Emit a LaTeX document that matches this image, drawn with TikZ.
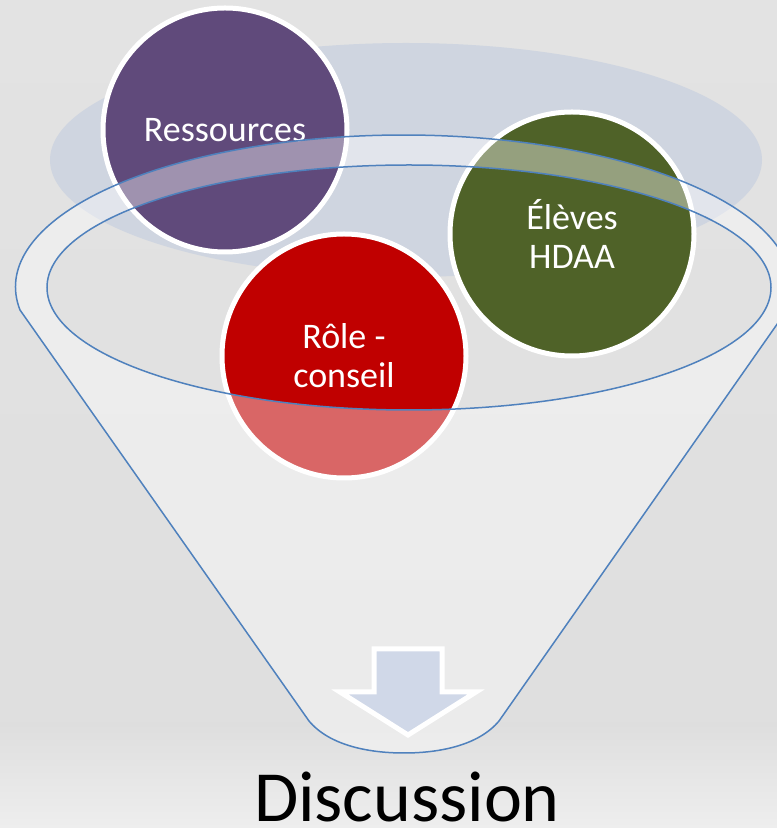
\documentclass[tikz,border=0pt]{standalone}
\usepackage{fontspec}
\setmainfont{Carlito}
\usepackage{tikz}
\usetikzlibrary{arrows}
\usepackage{xcolor}
\definecolor{fondhaut}{RGB}{227,227,227}
\definecolor{fondmilieu}{RGB}{222,222,222}
\definecolor{fondbas}{RGB}{238,238,238}
\definecolor{nuage}{RGB}{207,213,224}
\definecolor{bulleviolet}{RGB}{96,74,123}
\definecolor{bullevert}{RGB}{79,98,40}
\definecolor{bullerouge}{RGB}{192,0,0}
\definecolor{entonnoir}{RGB}{79,129,189}
\definecolor{flechebleu}{RGB}{208,216,232}

\begin{document}
\begin{tikzpicture}[x=1pt,y=1pt,
  bulle/.style={circle, draw=white, line width=5pt, minimum size=244pt, text=white, align=center, font=\fontsize{36}{39}\selectfont}]
\useasboundingbox (0,0) rectangle (777,828);
%%%BACKGROUND
\shade[top color=fondhaut, bottom color=fondmilieu] (0,0) rectangle (777,828);
\shade[top color=fondmilieu, bottom color=fondbas] (0,0) rectangle (777,105);
\fill[nuage] (406,668) ellipse [x radius=356, y radius=117];
%%%BUBBLES
\node[bulle, fill=bulleviolet] (res) at (225,698) {Ressources};
\node[bulle, fill=bullevert] (eleves) at (572,594) {Élèves\\HDAA};
\node[bulle, fill=bullerouge] (role) at (344,472) {Rôle -\\conseil};
%%%FUNNEL
\fill[white, opacity=0.4, even odd rule] (20,518) arc[start angle=188.7, end angle=-8.7, x radius=388, y radius=152]
  -- (499,107) .. controls (478,82) and (438,75) .. (404,75) .. controls (370,75) and (330,82) .. (309,107) -- cycle
  (409,540.5) ellipse [x radius=362, y radius=122.5];
\draw[entonnoir, line width=1.5pt] (20,518) arc[start angle=188.7, end angle=-8.7, x radius=388, y radius=152]
  -- (499,107) .. controls (478,82) and (438,75) .. (404,75) .. controls (370,75) and (330,82) .. (309,107) -- cycle;
\draw[entonnoir, line width=1.5pt] (409,540.5) ellipse [x radius=362, y radius=122.5];
%%%ARROW
\filldraw[fill=flechebleu, draw=white, line width=5pt] (374,179) -- (442,179) -- (442,136) -- (476,136) -- (408,93) -- (340,136) -- (374,136) -- cycle;
%%%OUTPUT
\node[font=\fontsize{72}{80}\selectfont, anchor=base, inner sep=0pt] (discussion) at (407,6) {Discussion};
\end{tikzpicture}
\end{document}
